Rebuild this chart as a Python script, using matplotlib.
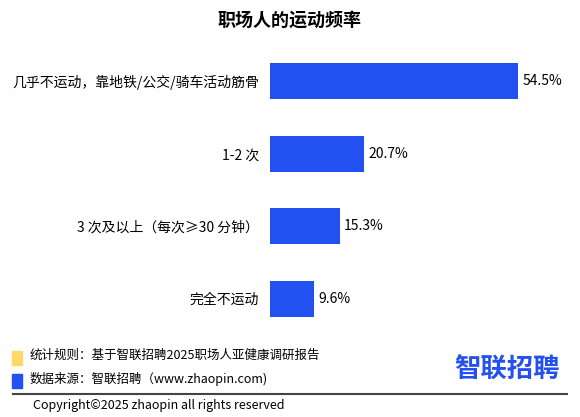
import matplotlib
matplotlib.use("Agg")
import matplotlib.pyplot as plt
from matplotlib.patches import Rectangle

plt.rcParams['font.family'] = ['Noto Sans CJK SC', 'DejaVu Sans']

categories = ["几乎不运动，靠地铁/公交/骑车活动筋骨", "1-2 次", "3 次及以上（每次≥30 分钟）", "完全不运动"]
values = [54.5, 20.7, 15.3, 9.6]
title = "职场人的运动频率"
blue = "#2350F0"

W, H = 580, 417
fig = plt.figure(figsize=(W/100, H/100), dpi=100)
ax = fig.add_axes([270/W, 1-335/H, 300/W, (335-45)/H])
y = list(range(len(categories)))
ax.barh(y, values, height=0.5, color=blue)
ax.set_ylim(3.5, -0.5)
ax.set_xlim(0, 54.5*300/248)
ax.set_yticks(y)
ax.set_yticklabels(categories, fontsize=10)
ax.tick_params(axis='y', length=0, pad=8)
ax.set_xticks([])
for s in ax.spines.values():
    s.set_visible(False)
for yi, v in zip(y, values):
    ax.text(v + 1, yi, f"{v}%", va='center', ha='left', fontsize=10)

fig.text(0.5, 1-20/H, title, ha='center', va='center', fontsize=13, fontweight='bold')

fig.patches.append(Rectangle((12/W, 1-365/H), 10/W, 14/H, transform=fig.transFigure, color="#FFD966"))
fig.patches.append(Rectangle((12/W, 1-388/H), 10/W, 14/H, transform=fig.transFigure, color=blue))
fig.text(30/W, 1-355/H, "统计规则：基于智联招聘2025职场人亚健康调研报告", fontsize=9, va='center')
fig.text(30/W, 1-379/H, "数据来源：智联招聘（www.zhaopin.com)", fontsize=9, va='center')
fig.text(560/W, 1-370/H, "智联招聘", fontsize=19, fontweight='bold', color=blue, ha='right', va='center')
fig.add_artist(plt.Line2D([13/W, 567/W], [1-394/H, 1-394/H], color='#444444', lw=1.5))
fig.text(33/W, 1-405/H, "Copyright©2025 zhaopin all rights reserved", fontsize=9, va='center')

fig.savefig("out.png", dpi=100)
